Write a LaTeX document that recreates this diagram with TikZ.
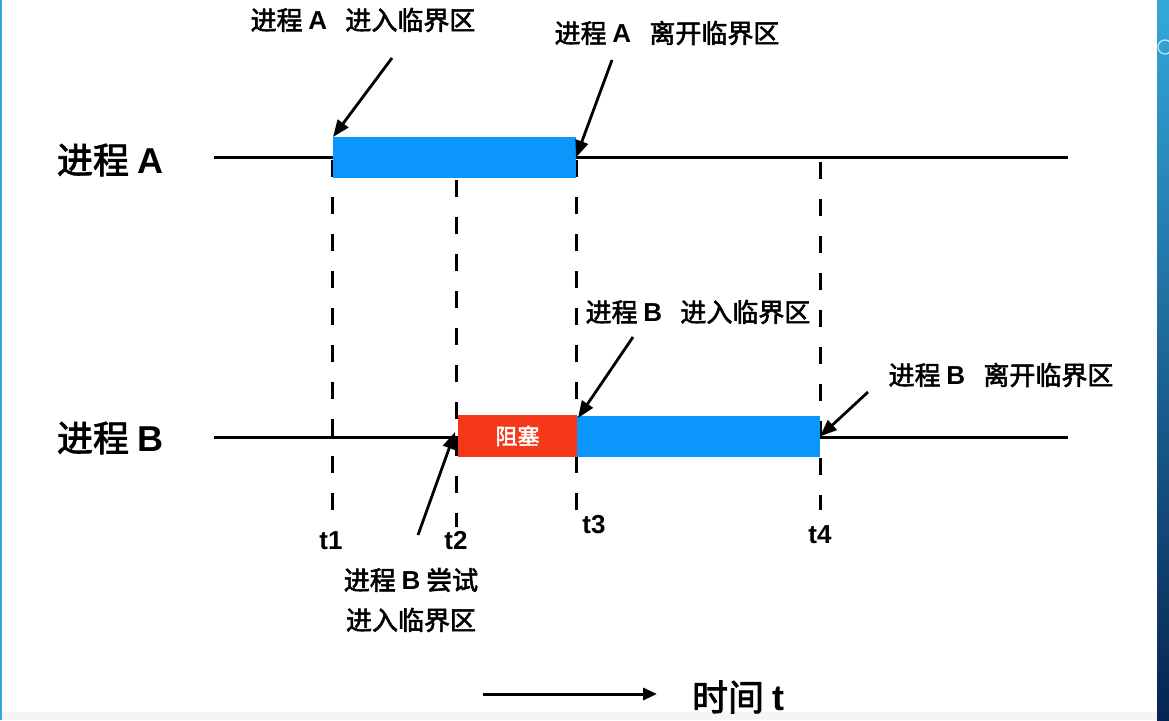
\documentclass[tikz,border=0pt]{standalone}
\usepackage{fontspec}
\setmainfont{Noto Sans CJK SC}[FakeBold=2.2]
\newfontfamily\latf{Liberation Sans}
\usetikzlibrary{arrows.meta}
\definecolor{barblue}{RGB}{10,150,250}
\definecolor{barred}{RGB}{246,56,26}
\definecolor{stripTop}{RGB}{52,168,218}
\definecolor{stripBot}{RGB}{6,36,82}
\newcommand{\lt}[1]{{\latf\bfseries #1}}
\begin{document}
\begin{tikzpicture}[x=1pt,y=-1pt,
  tline/.style={line width=3pt,black},
  vdash/.style={line width=3pt,black,dash pattern=on 17pt off 20pt},
  bar/.style={inner sep=0pt,outer sep=0pt,draw=none},
  pointer/.style={line width=2.8pt,-{Triangle[length=17pt,width=13pt]}},
  note/.style={font=\fontsize{26}{30}\selectfont,inner sep=0pt},
  proc/.style={font=\fontsize{36}{40}\selectfont,inner sep=0pt},
  tick/.style={font=\fontsize{26}{30}\selectfont\latf\bfseries,inner sep=0pt}]
\useasboundingbox (0,0) rectangle (1169,720);
\fill[white] (0,0) rectangle (1169,720);
\fill[black!4] (0,712) rectangle (1157,720);
\fill[stripTop] (0,0) rectangle (1.5,720);
\shade[top color=stripTop,bottom color=stripBot] (1157,0) rectangle (1169,720);
\draw[cyan!25,line width=1.2pt] (1165,47) circle (7);

% process labels
\node[proc] (pA) at (110,160) {进程 \lt{A}};
\node[proc] (pB) at (110,438) {进程 \lt{B}};

% time lines
\coordinate (aL) at (214,157);
\coordinate (aR) at (1068,157);
\coordinate (bL) at (214,437);
\coordinate (bR) at (1068,437);
\draw[tline] (aL) -- (aR);
\draw[tline] (bL) -- (bR);

% dashed time markers
\coordinate (t1top) at (332,160); \coordinate (t1bot) at (332,510);
\coordinate (t2top) at (456,180); \coordinate (t2bot) at (456,527);
\coordinate (t3top) at (576,160); \coordinate (t3bot) at (576,510);
\coordinate (t4top) at (820,162); \coordinate (t4bot) at (820,510);
\draw[vdash] (t1top) -- (t1bot);
\draw[vdash] (t2top) -- (t2bot);
\draw[vdash] (t3top) -- (t3bot);
\draw[vdash] (t4top) -- (t4bot);

% bars
\node[bar,fill=barblue,minimum width=243pt,minimum height=41pt] (barA) at (454.5,157.5) {};
\node[bar,fill=barred,minimum width=119pt,minimum height=42pt,text=white,font=\fontsize{22}{24}\selectfont] (block) at (517.5,436) {阻塞};
\node[bar,fill=barblue,minimum width=243pt,minimum height=41pt] (barB) at (698.5,436.5) {};

% tick labels
\node[tick] (l1) at (331,541) {t1};
\node[tick] (l2) at (456,541) {t2};
\node[tick] (l3) at (594,525) {t3};
\node[tick] (l4) at (820,535) {t4};

% annotations
\node[note] (nAin) at (363,20) {进程 \lt{A}\hspace{0.7em}进入临界区};
\node[note] (nAout) at (667,33) {进程 \lt{A}\hspace{0.7em}离开临界区};
\node[note] (nBin) at (698,312) {进程 \lt{B}\hspace{0.7em}进入临界区};
\node[note] (nBout) at (1001,375) {进程 \lt{B}\hspace{0.7em}离开临界区};
\node[note] (nBtry1) at (411,580) {进程 \lt{B} 尝试};
\node[note] (nBtry2) at (411,620) {进入临界区};

\coordinate (sAin) at (392,58);
\coordinate (sAout) at (612,60);
\coordinate (sBin) at (633,337);
\coordinate (sBtry) at (418,535);
\coordinate (sBout) at (868,392);
\draw[pointer] (sAin) -- (barA.north west);
\draw[pointer] (sAout) -- (barA.east);
\draw[pointer] (sBin) -- ([xshift=1pt,yshift=-2pt]barB.north west);
\draw[pointer] (sBtry) -- ([xshift=-3pt,yshift=4pt]block.west);
\draw[pointer] (sBout) -- (barB.east);

% time axis
\coordinate (tS) at (483,694);
\coordinate (tE) at (657,694);
\draw[line width=3pt,-{Triangle[length=14pt,width=12pt]}] (tS) -- (tE);
\node[proc] (time) at (738,697) {时间 \lt{t}};
\end{tikzpicture}
\end{document}
